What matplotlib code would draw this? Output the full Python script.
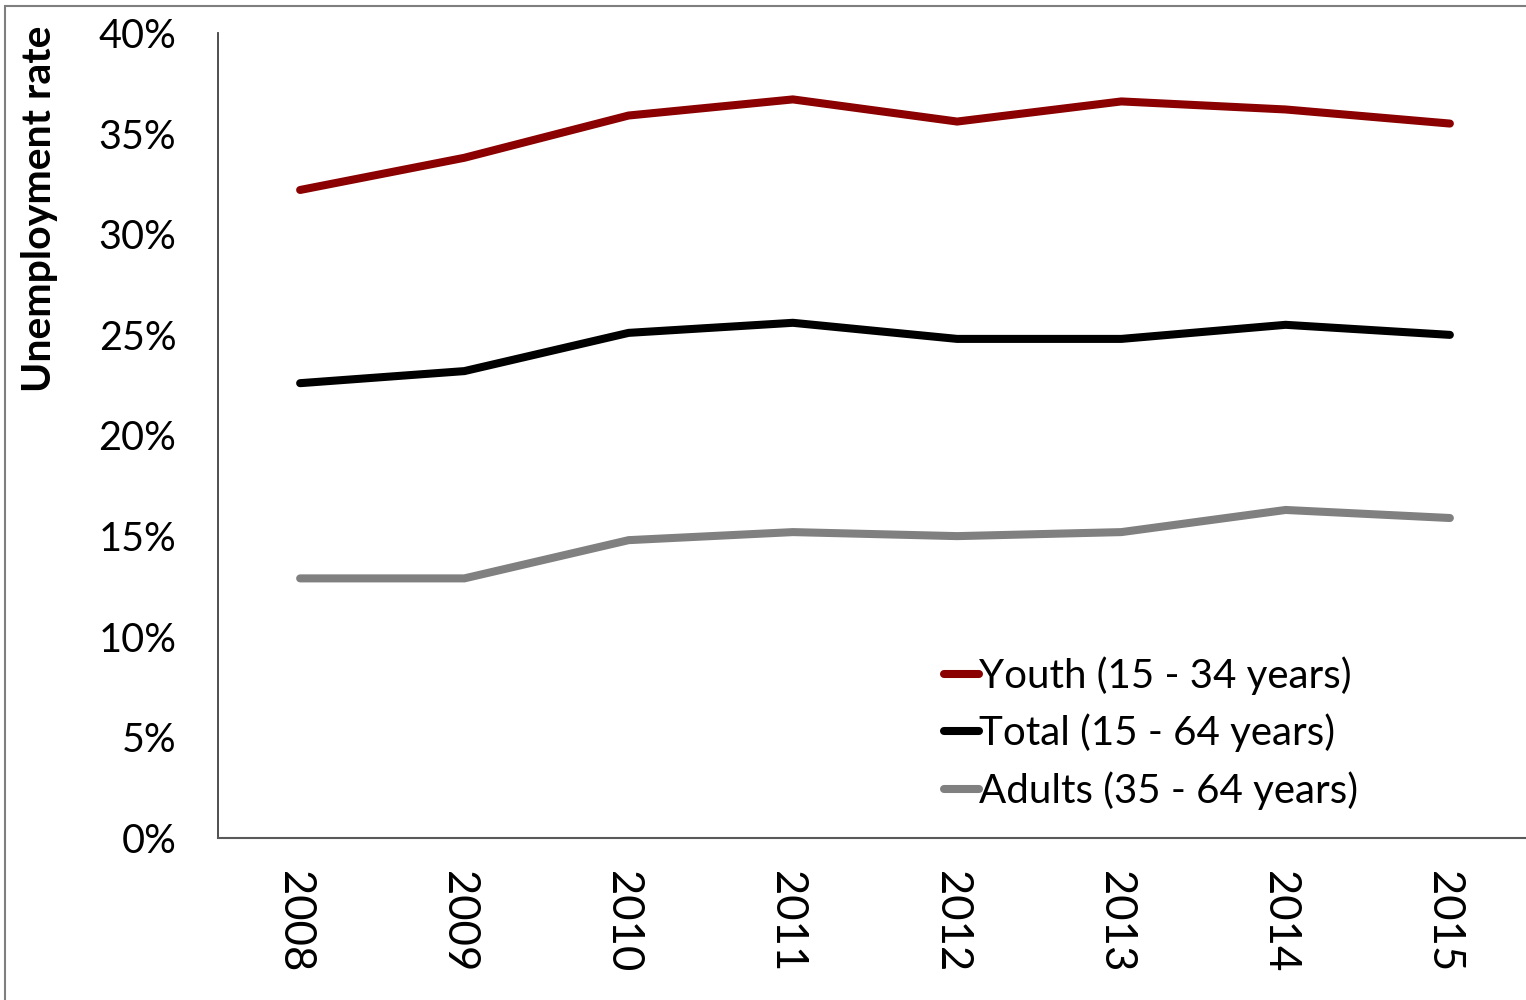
import matplotlib
matplotlib.use("Agg")
import matplotlib.pyplot as plt
from matplotlib.patches import Rectangle
from matplotlib.ticker import FuncFormatter
from matplotlib.transforms import ScaledTranslation

years = ["2008", "2009", "2010", "2011", "2012", "2013", "2014", "2015"]
youth = [32.2, 33.8, 35.9, 36.7, 35.6, 36.6, 36.2, 35.5]
total = [22.6, 23.2, 25.1, 25.6, 24.8, 24.8, 25.5, 25.0]
adults = [12.9, 12.9, 14.8, 15.2, 15.0, 15.2, 16.3, 15.9]

series_labels = ["Youth (15 - 34 years)", "Total (15 - 64 years)", "Adults (35 - 64 years)"]
series_colors = ["#8B0000", "#000000", "#808080"]

plt.rcParams["font.family"] = ["Lato", "DejaVu Sans"]

W, H = 1526, 1000
fig = plt.figure(figsize=(W / 100, H / 100), dpi=100)

# outer chart border
fig.patches.append(Rectangle((5 / W, -0.01), 1.02, 1 - 6 / H + 0.01,
                             transform=fig.transFigure, fill=False,
                             edgecolor="#7f7f7f", linewidth=1.5))

left, right, top, bottom = 218, 1532, 33, 838
ax = fig.add_axes([left / W, 1 - bottom / H, (right - left) / W, (bottom - top) / H])

x = list(range(len(years)))
for vals, lab, col in zip([youth, total, adults], series_labels, series_colors):
    ax.plot(x, vals, color=col, linewidth=5.8, solid_capstyle="round",
            solid_joinstyle="miter", label=lab)

ax.set_xlim(-0.5, len(years) - 0.5)
ax.set_ylim(0, 40)
ax.set_yticks(range(0, 41, 5))
ax.yaxis.set_major_formatter(FuncFormatter(lambda v, p: f"{v:.0f}%"))
ax.set_xticks(x)
ax.set_xticklabels(years, rotation=270, fontsize=31.5)
ax.tick_params(axis="y", labelsize=28.5, length=0, pad=30)
ax.tick_params(axis="x", length=0, pad=24)

# nudge the rotated year labels slightly left
shift = ScaledTranslation(-6 / 100, 0, fig.dpi_scale_trans)
for lbl in ax.get_xticklabels():
    lbl.set_transform(lbl.get_transform() + shift)

for s in ["top", "right"]:
    ax.spines[s].set_visible(False)
ax.spines["left"].set_color("#404040")
ax.spines["bottom"].set_color("#595959")
ax.spines["left"].set_linewidth(1.3)
ax.spines["bottom"].set_linewidth(1.5)

ax.set_ylabel("Unemployment rate", fontsize=29.5, fontweight="bold")
ax.yaxis.set_label_coords(-160 / (right - left), 1 - (209 - top) / (bottom - top))

leg = ax.legend(loc="upper left", bbox_to_anchor=((944 - left) / (right - left), 1 - (656 - top) / (bottom - top)),
                frameon=False, fontsize=29, handlelength=0.88, handletextpad=0.0,
                labelspacing=0.47, borderpad=0, borderaxespad=0)

fig.savefig("out.png", dpi=100)
